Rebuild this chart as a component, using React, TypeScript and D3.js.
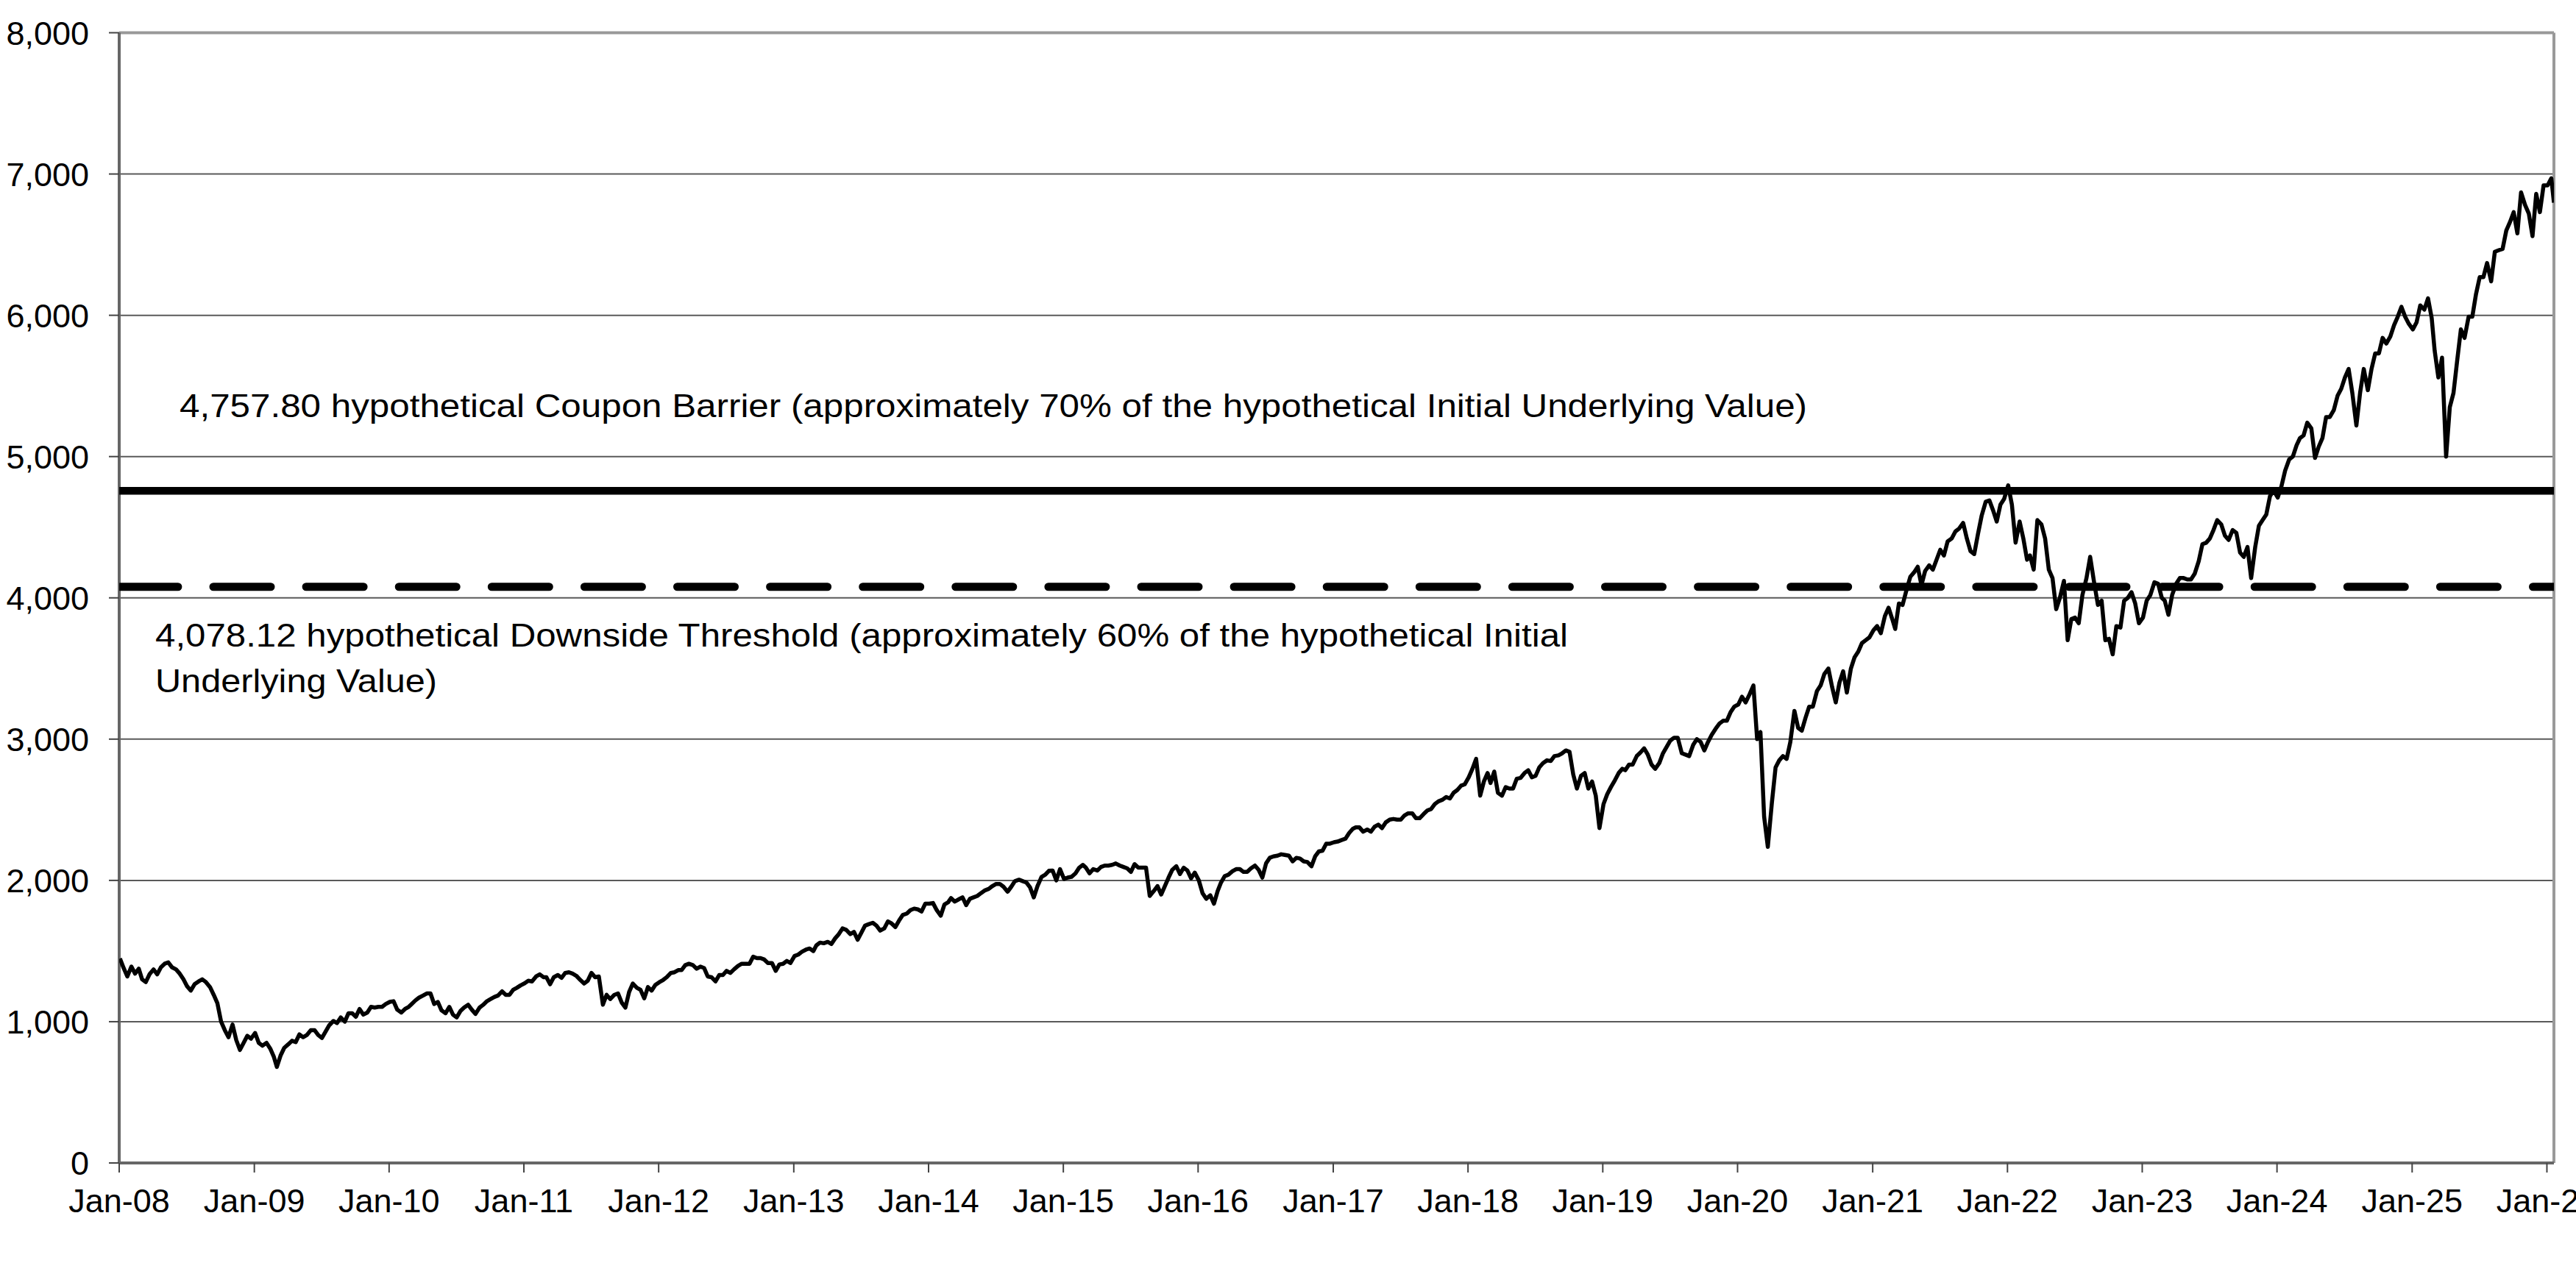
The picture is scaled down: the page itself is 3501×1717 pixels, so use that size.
import React from 'react';
import * as d3 from 'd3';

// S&P-style index levels, three readings per month (early / mid / late)
const y2008 = [1447,1380,1320, 1390,1340,1375, 1300,1280,1335, 1370,1335,1385, 1410,1420,1385, 1370,1340,1300, 1250,1220,1265, 1285,1300,1280, 1245,1190,1130, 1000,940,890, 980,870,800, 850,900,880];
const y2009 = [920,850,830, 850,810,750, 680,760,815, 840,865,855, 910,890,905, 940,940,905, 885,930,975, 1005,990,1030, 1000,1060,1060, 1035,1090,1050, 1065,1105,1100, 1105,1105,1125];
const y2010 = [1140,1145,1085, 1065,1090,1105, 1125,1150,1170, 1185,1200,1200, 1125,1140,1080, 1060,1105,1050, 1030,1075,1100, 1120,1085,1055, 1100,1120,1145, 1160,1175,1185, 1215,1190,1190, 1225,1240,1257];
const y2011 = [1272,1290,1285, 1320,1335,1315, 1315,1265,1315, 1330,1310,1345, 1350,1340,1325, 1295,1270,1290, 1345,1315,1320, 1120,1190,1160, 1190,1200,1135, 1100,1210,1270, 1240,1225,1165, 1245,1220,1260];
const y2012 = [1280,1295,1315, 1345,1350,1365, 1365,1400,1410, 1400,1375,1390, 1380,1320,1315, 1285,1330,1330, 1360,1345,1370, 1395,1410,1410, 1410,1460,1450, 1450,1440,1415, 1415,1360,1405, 1410,1430,1415];
const y2013 = [1465,1475,1495, 1510,1518,1500, 1540,1560,1555, 1565,1550,1590, 1620,1660,1650, 1620,1635,1580, 1630,1680,1690, 1700,1680,1645, 1660,1710,1695, 1670,1715,1755, 1765,1790,1800, 1795,1780,1835];
const y2014 = [1835,1840,1790, 1750,1830,1845, 1875,1850,1865, 1880,1825,1870, 1880,1890,1910, 1930,1940,1960, 1975,1975,1955, 1920,1955,1995, 2005,1995,1985, 1950,1880,1960, 2025,2040,2068, 2070,2000,2080];
const y2015 = [2010,2020,2025, 2050,2090,2110, 2090,2050,2080, 2070,2095,2105, 2105,2110,2120, 2105,2095,2085, 2060,2115,2090, 2090,2090,1890, 1925,1960,1900, 1960,2020,2075, 2100,2045,2090, 2070,2015,2055];
const y2016 = [2000,1910,1870, 1895,1835,1925, 1985,2030,2040, 2065,2080,2080, 2060,2060,2085, 2105,2075,2020, 2120,2160,2170, 2175,2185,2180, 2175,2135,2160, 2155,2135,2130, 2100,2170,2205, 2210,2260,2260];
const y2017 = [2270,2275,2285, 2295,2335,2365, 2375,2375,2345, 2360,2345,2380, 2395,2370,2410, 2430,2435,2430, 2430,2460,2475, 2475,2440,2440, 2470,2495,2505, 2540,2560,2570, 2590,2580,2620, 2640,2670,2680];
const y2018 = [2730,2790,2860, 2600,2700,2760, 2690,2770,2620, 2600,2660,2650, 2650,2720,2725, 2760,2780,2730, 2740,2800,2830, 2850,2845,2880, 2885,2900,2920, 2910,2750,2650, 2740,2760,2650, 2700,2600,2370];
const y2019 = [2540,2610,2660, 2710,2760,2790, 2780,2820,2820, 2880,2905,2935, 2890,2820,2790, 2830,2900,2945, 2990,3010,3010, 2900,2890,2880, 2960,3000,2980, 2920,2980,3030, 3075,3110,3130, 3130,3190,3230];
const y2020 = [3245,3300,3260, 3320,3380,3000, 3050,2450,2237, 2550,2800,2850, 2880,2860,2980, 3200,3080,3060, 3150,3230,3230, 3340,3380,3460, 3500,3370,3260, 3400,3480,3330, 3500,3580,3620, 3680,3700,3720];
const y2021 = [3770,3800,3750, 3870,3930,3850, 3780,3960,3950, 4060,4150,4180, 4220,4090,4190, 4230,4200,4270, 4340,4300,4400, 4420,4470,4490, 4530,4420,4330, 4310,4450,4580, 4680,4690,4620, 4540,4660,4700];
const y2022 = [4796,4660,4390, 4540,4420,4270, 4300,4200,4550, 4520,4420,4200, 4140,3920,4000, 4120,3700,3850, 3860,3820,4020, 4140,4290,4120, 3950,3980,3700, 3710,3600,3800, 3790,3980,4000, 4040,3960,3820];
const y2023 = [3860,3980,4020, 4110,4100,4000, 3980,3880,4020, 4100,4140,4140, 4130,4130,4170, 4260,4380,4390, 4420,4480,4550, 4520,4440,4410, 4480,4460,4320, 4290,4360,4140, 4360,4510,4550, 4590,4720,4760];
const y2024 = [4710,4790,4900, 4980,5000,5080, 5130,5150,5240, 5200,4990,5070, 5130,5280,5280, 5330,5430,5480, 5560,5620,5450, 5220,5450,5620, 5470,5620,5730, 5730,5840,5800, 5850,5930,5990, 6060,5990,5940];
const y2025 = [5900,5950,6070, 6040,6120,5980, 5750,5560,5700, 5000,5350,5450, 5680,5900,5840, 5990,5990,6150, 6270,6270,6370, 6240,6450,6460, 6470,6600,6660, 6730,6580,6870, 6780,6720,6560, 6860,6730,6920];
const y2026 = [6920,6970,6797];

const yearStart = 2008;
const seriesByYear = [y2008,y2009,y2010,y2011,y2012,y2013,y2014,y2015,y2016,y2017,y2018,y2019,y2020,y2021,y2022,y2023,y2024,y2025,y2026];
const readingDays = [3, 13, 23];

const yTicks = [0, 1000, 2000, 3000, 4000, 5000, 6000, 7000, 8000];
const couponBarrier = 4757.80;
const downsideThreshold = 4078.12;
const couponText = '4,757.80 hypothetical Coupon Barrier (approximately 70% of the hypothetical Initial Underlying Value)';
const downsideText1 = '4,078.12 hypothetical Downside Threshold (approximately 60% of the hypothetical Initial';
const downsideText2 = 'Underlying Value)';

const START = new Date(2008, 0, 1);
const END = new Date(2026, 0, 20);

type Pt = { date: Date; value: number };

const points: Pt[] = [];
seriesByYear.forEach((arr, yi) => {
  arr.forEach((v, j) => {
    let d = new Date(yearStart + yi, Math.floor(j / 3), readingDays[j % 3]);
    if (d > END) d = END;
    points.push({ date: d, value: v });
  });
});

const W = 3501, H = 1717;
const L = 162, R = 3471, T = 44.5, B = 1581;
const FONT = '"Liberation Sans", Arial, Helvetica, sans-serif';

export default function App() {
  const x = d3.scaleTime().domain([START, END]).range([L, R]);
  const y = d3.scaleLinear().domain([0, 8000]).range([B, T]);
  const line = d3.line<Pt>().x(d => x(d.date)).y(d => y(d.value));
  const xTicks = d3.timeYear.range(new Date(2008, 0, 1), new Date(2026, 0, 2));
  const fmtX = d3.timeFormat('Jan-%y');
  const fmtY = d3.format(',');

  return (
    <svg width={W} height={H} style={{ position: 'absolute', left: 0, top: 0, background: '#fff' }}
      fontFamily={FONT}>
      <defs>
        <clipPath id="plot"><rect x={L} y={T - 10} width={R - L} height={B - T + 20} /></clipPath>
      </defs>
      <rect x={0} y={0} width={W} height={H} fill="#fff" />
      {/* gridlines */}
      {yTicks.filter(t => t > 0 && t < 8000).map(t => (
        <line key={t} x1={L} x2={R} y1={y(t)} y2={y(t)} stroke="#5a5a5a" strokeWidth={2} />
      ))}
      {/* frame */}
      <line x1={L} x2={R} y1={T} y2={T} stroke="#999" strokeWidth={4} />
      <line x1={R} x2={R} y1={T} y2={B} stroke="#999" strokeWidth={4} />
      <line x1={L} x2={L} y1={T} y2={B} stroke="#666" strokeWidth={4} />
      <line x1={L} x2={R} y1={B} y2={B} stroke="#666" strokeWidth={4} />
      {/* y ticks */}
      {yTicks.map(t => (
        <g key={t}>
          <line x1={L - 14} x2={L} y1={y(t)} y2={y(t)} stroke="#444" strokeWidth={2} />
          <text x={121} y={y(t) + 16} textAnchor="end" fontSize={45} fill="#000">{fmtY(t)}</text>
        </g>
      ))}
      {/* x ticks */}
      {xTicks.map(d => (
        <g key={d.getTime()}>
          <line x1={x(d)} x2={x(d)} y1={B} y2={B + 13} stroke="#444" strokeWidth={2} />
          <text x={x(d)} y={1648} textAnchor="middle" fontSize={45} fill="#000">{fmtX(d)}</text>
        </g>
      ))}
      {/* threshold lines */}
      <g clipPath="url(#plot)">
        <line x1={L} x2={R} y1={y(couponBarrier)} y2={y(couponBarrier)} stroke="#000" strokeWidth={10.6} />
        <line x1={L} x2={R} y1={y(downsideThreshold)} y2={y(downsideThreshold)} stroke="#000" strokeWidth={11}
          strokeDasharray="78 48.1" strokeDashoffset={-1.9} strokeLinecap="round" />
        <path d={line(points) || ''} fill="none" stroke="#000" strokeWidth={5.5} strokeLinejoin="round" />
      </g>
      {/* annotations */}
      <text x={244} y={567} fontSize={45} fill="#000" textLength={2212} lengthAdjust="spacingAndGlyphs">{couponText}</text>
      <text x={211} y={879} fontSize={45} fill="#000" textLength={1920} lengthAdjust="spacingAndGlyphs">{downsideText1}</text>
      <text x={211} y={941} fontSize={45} fill="#000" textLength={383} lengthAdjust="spacingAndGlyphs">{downsideText2}</text>
    </svg>
  );
}
